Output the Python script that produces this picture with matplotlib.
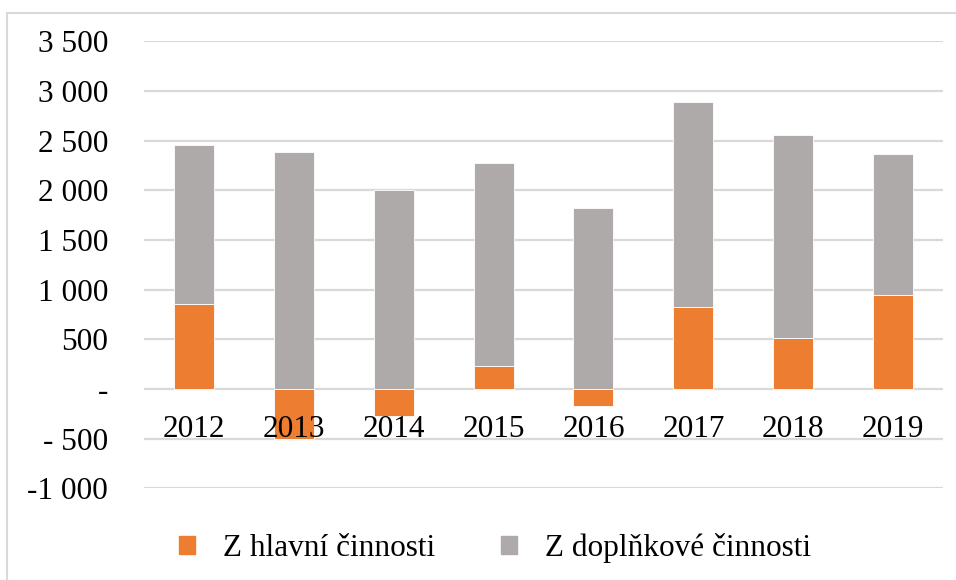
import matplotlib.pyplot as plt
from matplotlib.patches import Patch, Rectangle

# data
years = ["2012", "2013", "2014", "2015", "2016", "2017", "2018", "2019"]
hlavni = [858, -508, -272, 227, -168, 821, 509, 949]
doplnkove = [1597, 2390, 2005, 2047, 1824, 2072, 2049, 1415]

y_ticks = [-1000, -500, 0, 500, 1000, 1500, 2000, 2500, 3000, 3500]
y_labels = ["-1 000", "- 500", "-", "500", "1 000", "1 500",
            "2 000", "2 500", "3 000", "3 500"]

ORANGE = "#ED7D31"
GRAY = "#AEAAAA"
GRID = "#D9D9D9"

plt.rcParams['font.family'] = ['Liberation Serif', 'DejaVu Serif']

fig = plt.figure(figsize=(9.56, 5.8), dpi=100)
ax = fig.add_axes([144 / 956, 1 - 488.3 / 580, (943 - 144) / 956, (488.3 - 41.3) / 580])

x = list(range(len(years)))
# excel style stacking: positives stack up from zero, negatives go down alone
base_gray = [max(v, 0) for v in hlavni]
ax.bar(x, hlavni, width=0.4, color=ORANGE, edgecolor="white", linewidth=0.6, zorder=2)
ax.bar(x, doplnkove, width=0.4, bottom=base_gray, color=GRAY,
       edgecolor="white", linewidth=0.6, zorder=2)

ax.set_xlim(-0.5, len(years) - 0.5)
ax.set_ylim(-1000, 3500)
ax.set_yticks(y_ticks)
ax.set_yticklabels(y_labels, fontsize=22.5)
ax.set_xticks([])
ax.tick_params(axis="y", length=0, pad=26)
ax.grid(axis="y", color=GRID, linewidth=1.6, zorder=0)
for s in ax.spines.values():
    s.set_visible(False)

# category labels sit just under the zero line
for i, yr in enumerate(years):
    ax.annotate(yr, (i, 0), xytext=(0, -34.5), textcoords="offset points",
                ha="center", va="baseline", fontsize=22.5, zorder=3)

handles = [Patch(color=ORANGE, label="Z hlavní činnosti"),
           Patch(color=GRAY, label="Z doplňkové činnosti")]
fig.legend(handles=handles, loc="center", bbox_to_anchor=(495 / 956, 1 - 548 / 580),
           ncol=2, frameon=False, fontsize=22.5, handlelength=0.5, handleheight=0.5,
           handletextpad=0.9, columnspacing=2.1)

# chart area border
fig.patches.append(Rectangle((7 / 956, -0.1), 1.1, 1.1 - 13 / 580, transform=fig.transFigure,
                             fill=False, edgecolor=GRID, linewidth=1.5))

plt.savefig("out.png", dpi=100)
